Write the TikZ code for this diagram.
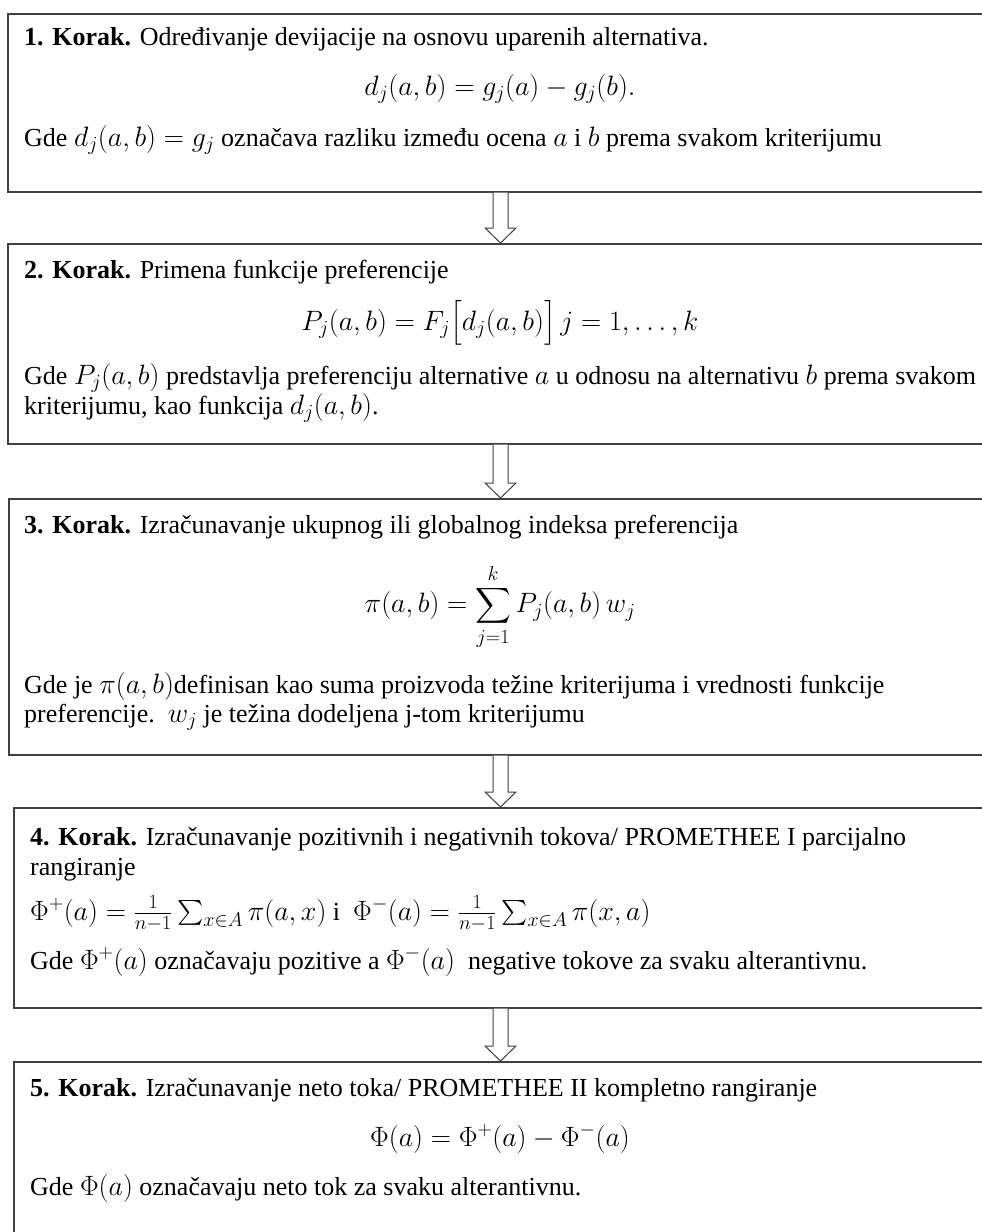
\RequirePackage{fix-cm}
\documentclass[tikz,border=0pt]{standalone}
\usepackage{amsmath}
\usepackage{fontspec}
\setmainfont{Liberation Serif}
\DeclareMathSizes{26}{28}{20}{15}
\usetikzlibrary{positioning,calc}

\tikzset{
  stepbox/.style={draw=black!75, line width=1.5pt, rectangle, anchor=north west, inner sep=0pt},
  steptext/.style={anchor=base west, inner sep=0pt, font=\fontsize{26}{30}\selectfont},
  formula/.style={anchor=base, inner sep=0pt, font=\fontsize{26}{30}\selectfont},
  flow/.style={draw=black!75, line width=1pt, fill=white, line join=miter}
}

\begin{document}
\begin{tikzpicture}[x=1pt,y=1pt]
\clip (0,0) rectangle (982,-1232);

% boxes of the five steps (they run past the right and lower edge)
\node[stepbox, minimum width=990, minimum height=178] (b1) at (7,-13) {};
\node[stepbox, minimum width=990, minimum height=200] (b2) at (7,-243) {};
\node[stepbox, minimum width=990, minimum height=256] (b3) at (8,-498) {};
\node[stepbox, minimum width=990, minimum height=200] (b4) at (13,-807) {};
\node[stepbox, minimum width=990, minimum height=200] (b5) at (13,-1061) {};

% step 1
\node[steptext] (t1a) at (24,-45) {\textbf{1. Korak.} Određivanje devijacije na osnovu uparenih alternativa.};
\node[formula] (t1b) at (500,-95) {$d_j(a,b) = g_j(a) - g_j(b).$};
\node[steptext] (t1c) at (24,-146) {Gde $d_j(a,b) = g_j$ označava razliku između ocena $a$ i $b$ prema svakom kriterijumu};

% step 2
\node[steptext] (t2a) at (24,-278) {\textbf{2. Korak.} Primena funkcije preferencije};
\node[formula] (t2b) at (500,-330) {$P_j(a,b) = F_j\bigl[d_j(a,b)\bigr]\,j = 1,\dots,k$};
\node[steptext] (t2c) at (24,-384) {Gde $P_j(a,b)$ predstavlja preferenciju alternative $a$ u odnosu na alternativu $b$ prema svakom};
\node[steptext] (t2d) at (24,-414) {kriterijumu, kao funkcija $d_j(a,b)$.};

% step 3
\node[steptext] (t3a) at (24,-533) {\textbf{3. Korak.} Izračunavanje ukupnog ili globalnog indeksa preferencija};
\node[formula, anchor=center] (t3b) at (500,-607) {$\displaystyle \pi(a,b) = \sum_{j=1}^{k} P_j(a,b)\,w_j$};
\node[steptext] (t3c) at (24,-693) {Gde je $\pi(a,b)$definisan kao suma proizvoda težine kriterijuma i vrednosti funkcije};
\node[steptext] (t3d) at (24,-722) {preferencije.\ \ $w_j$ je težina dodeljena j-tom kriterijumu};

% step 4
\node[steptext] (t4a) at (30,-845) {\textbf{4. Korak.} Izračunavanje pozitivnih i negativnih tokova/ PROMETHEE I parcijalno};
\node[steptext] (t4b) at (30,-875) {rangiranje};
\node[steptext] (t4c) at (30,-920) {$\Phi^{+}(a) = \frac{1}{n-1}\sum_{x\in A}\pi(a,x)$ i\ \ $\Phi^{-}(a) = \frac{1}{n-1}\sum_{x\in A}\pi(x,a)$};
\node[steptext] (t4d) at (30,-969) {Gde $\Phi^{+}(a)$ označavaju pozitive a $\Phi^{-}(a)$\ \ negative tokove za svaku alterantivnu.};

% step 5
\node[steptext] (t5a) at (30,-1096) {\textbf{5. Korak.} Izračunavanje neto toka/ PROMETHEE II kompletno rangiranje};
\node[formula] (t5b) at (500,-1146) {$\Phi(a) = \Phi^{+}(a) - \Phi^{-}(a)$};
\node[steptext] (t5c) at (30,-1195) {Gde $\Phi(a)$ označavaju neto tok za svaku alterantivnu.};

% hollow arrows between the boxes
\coordinate (ax) at (500.5,0);
\foreach \a/\b in {b1/b2,b2/b3,b3/b4,b4/b5}
  \draw[flow] ($(ax |- \a.south)+(-7.5,0)$) -- ($(ax |- \b.north)+(-7.5,15)$)
    -- ($(ax |- \b.north)+(-15.5,15)$) -- (ax |- \b.north)
    -- ($(ax |- \b.north)+(15.5,15)$) -- ($(ax |- \b.north)+(7.5,15)$)
    -- ($(ax |- \a.south)+(7.5,0)$);
\end{tikzpicture}
\end{document}
